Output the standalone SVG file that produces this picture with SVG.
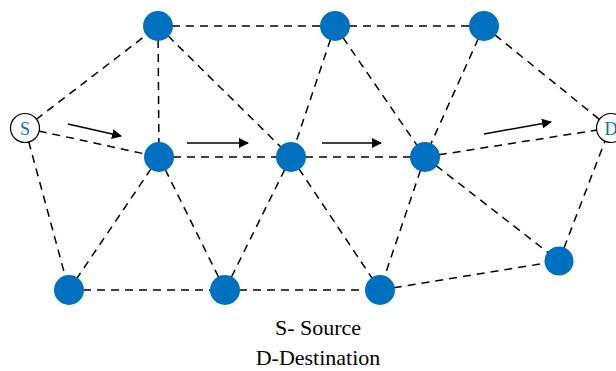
<svg xmlns="http://www.w3.org/2000/svg" width="616" height="371" viewBox="0 0 616 371">
<defs>
<marker id="ah" viewBox="0 0 10 10" refX="9" refY="5" markerWidth="10" markerHeight="10" markerUnits="userSpaceOnUse" orient="auto"><path d="M0,0 L10,5 L0,10 z" fill="#000"/></marker>
<style>
.e{stroke:#000;stroke-width:1.5;stroke-dasharray:8,6;fill:none}
.a{stroke:#000;stroke-width:1.5;fill:none;marker-end:url(#ah)}
.n{fill:#0070C0}
.t{fill:#fff;stroke:#000;stroke-width:1.2}
.l{font-family:"Liberation Serif","Times New Roman",serif;font-size:18px;fill:#0070C0;text-anchor:middle}
.c{font-family:"Liberation Serif","Times New Roman",serif;font-size:22px;fill:#000;text-anchor:middle}
</style>
</defs>
<rect width="616" height="371" fill="#fff"/>
<g id="connectors">
<line class="e" x1="25" y1="128" x2="158" y2="26"/>
<line class="e" x1="25" y1="128" x2="159" y2="157"/>
<line class="e" x1="25" y1="128" x2="69" y2="290"/>
<line class="e" x1="158" y1="26" x2="335" y2="26"/>
<line class="e" x1="335" y1="26" x2="484" y2="26"/>
<line class="e" x1="484" y1="26" x2="610" y2="128"/>
<line class="e" x1="158" y1="26" x2="159" y2="157"/>
<line class="e" x1="158" y1="26" x2="291" y2="157"/>
<line class="e" x1="335" y1="26" x2="291" y2="157"/>
<line class="e" x1="335" y1="26" x2="425" y2="157"/>
<line class="e" x1="484" y1="26" x2="425" y2="157"/>
<line class="e" x1="159" y1="157" x2="291" y2="157"/>
<line class="e" x1="291" y1="157" x2="425" y2="157"/>
<line class="e" x1="425" y1="157" x2="610" y2="128"/>
<line class="e" x1="159" y1="157" x2="69" y2="290"/>
<line class="e" x1="159" y1="157" x2="225" y2="290"/>
<line class="e" x1="291" y1="157" x2="225" y2="290"/>
<line class="e" x1="291" y1="157" x2="380" y2="290"/>
<line class="e" x1="425" y1="157" x2="380" y2="290"/>
<line class="e" x1="425" y1="157" x2="559" y2="261"/>
<line class="e" x1="559" y1="261" x2="610" y2="128"/>
<line class="e" x1="69" y1="290" x2="225" y2="290"/>
<line class="e" x1="225" y1="290" x2="380" y2="290"/>
<line class="e" x1="380" y1="290" x2="559" y2="261"/>
<line class="a" x1="68" y1="124" x2="121" y2="136"/>
<line class="a" x1="187" y1="143" x2="248" y2="143"/>
<line class="a" x1="322" y1="143" x2="381" y2="143"/>
<line class="a" x1="484" y1="134" x2="551" y2="122"/>
</g>
<g id="S"><circle class="t" cx="25" cy="128" r="14.5"/><text class="l" x="25" y="134.5">S</text></g>
<g id="D"><circle class="t" cx="611" cy="128" r="14.5"/><text class="l" x="611" y="134.5">D</text></g>
<g id="A1"><circle class="n" cx="158" cy="26" r="15"/></g>
<g id="A2"><circle class="n" cx="335" cy="26" r="15"/></g>
<g id="A3"><circle class="n" cx="484" cy="26" r="15"/></g>
<g id="B1"><circle class="n" cx="159" cy="157" r="15"/></g>
<g id="B2"><circle class="n" cx="291" cy="157" r="15"/></g>
<g id="B3"><circle class="n" cx="425" cy="157" r="15"/></g>
<g id="C1"><circle class="n" cx="69" cy="290" r="15"/></g>
<g id="C2"><circle class="n" cx="225" cy="290" r="15"/></g>
<g id="C3"><circle class="n" cx="380" cy="290" r="15"/></g>
<g id="C4"><circle class="n" cx="559" cy="261" r="14.5"/></g>
<g id="legend">
<text class="c" x="318" y="335">S- Source</text>
<text class="c" x="318" y="365">D-Destination</text>
</g>
</svg>
